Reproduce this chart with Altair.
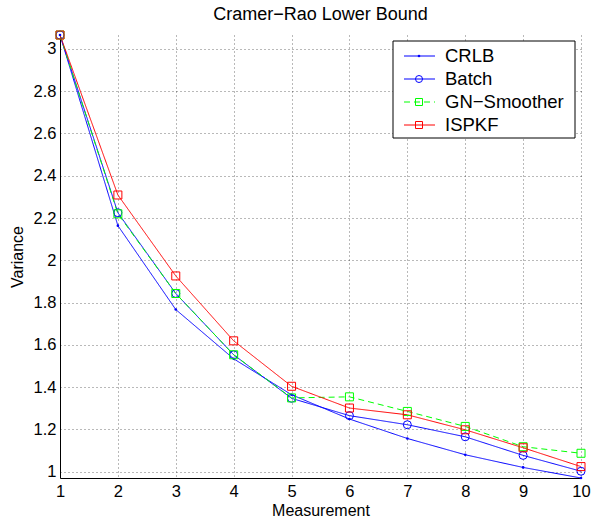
import altair as alt
import pandas as pd

# ---- data ----
measurement = [1, 2, 3, 4, 5, 6, 7, 8, 9, 10]
crlb = [3.066, 2.164, 1.767, 1.534, 1.364, 1.249, 1.157, 1.080, 1.020, 0.970]
batch = [3.066, 2.225, 1.843, 1.553, 1.347, 1.265, 1.222, 1.165, 1.077, 1.002]
gn_smoother = [3.066, 2.220, 1.843, 1.553, 1.349, 1.354, 1.285, 1.214, 1.118, 1.087]
ispkf = [3.066, 2.309, 1.926, 1.619, 1.404, 1.301, 1.269, 1.198, 1.113, 1.024]

series_names = ["CRLB", "Batch", "GN\u2212Smoother", "ISPKF"]
series_colors = ["#0000ff", "#0000ff", "#00ff00", "#ff0000"]
series_dash = [[1, 0], [1, 0], [6, 4], [1, 0]]
series_shapes = ["circle", "circle", "square", "square"]
y_ticks = [1, 1.2, 1.4, 1.6, 1.8, 2, 2.2, 2.4, 2.6, 2.8, 3]

rows = []
for name, vals in zip(series_names, [crlb, batch, gn_smoother, ispkf]):
    for m, v in zip(measurement, vals):
        rows.append({"series": name, "Measurement": m, "Variance": v})
df = pd.DataFrame(rows)

legend_df = pd.DataFrame({"series": series_names, "row": list(range(len(series_names)))})

FONT = "Liberation Sans"

color_enc = alt.Color("series:N", scale=alt.Scale(domain=series_names, range=series_colors), legend=None)
dash_enc = alt.StrokeDash("series:N", scale=alt.Scale(domain=series_names, range=series_dash), legend=None)
shape_enc = alt.Shape("series:N", scale=alt.Scale(domain=series_names, range=series_shapes), legend=None)

x_enc = alt.X("Measurement:Q",
              scale=alt.Scale(domain=[1, 10], nice=False, zero=False),
              axis=alt.Axis(values=measurement, format="d", title="Measurement",
                            titlePadding=3, labelPadding=5, labelFlush=False))
y_enc = alt.Y("Variance:Q",
              scale=alt.Scale(domain=[0.970, 3.066], nice=False, zero=False),
              axis=alt.Axis(values=y_ticks, format="~g", title="Variance",
                            titlePadding=8, labelPadding=4, labelFlush=False))

base = alt.Chart(df)
lines = base.mark_line(strokeWidth=1).encode(x=x_enc, y=y_enc, color=color_enc, strokeDash=dash_enc)
dots = base.transform_filter(alt.datum.series == "CRLB").mark_point(
    filled=True, size=7, shape="circle", opacity=1
).encode(x=x_enc, y=y_enc, color=color_enc)
markers = base.transform_filter(alt.datum.series != "CRLB").mark_point(
    filled=False, size=64, strokeWidth=1, opacity=1
).encode(x=x_enc, y=y_enc, color=color_enc, shape=shape_enc)

main = alt.layer(lines, dots, markers)

# ---- legend box ----
ly = alt.Y("row:Q", scale=alt.Scale(domain=[0, 3], range=[21, 90]), axis=None)
box = alt.Chart(pd.DataFrame({"a": [0]})).mark_rect(
    fill="white", stroke="black", strokeWidth=1
).encode(x=alt.value(333), x2=alt.value(515), y=alt.value(6), y2=alt.value(103))
lbase = alt.Chart(legend_df)
lsegs = lbase.mark_rule(strokeWidth=1).encode(
    x=alt.value(344), x2=alt.value(375), y=ly, color=color_enc, strokeDash=dash_enc)
ldots = lbase.transform_filter(alt.datum.series == "CRLB").mark_point(
    filled=True, size=7, shape="circle", opacity=1).encode(x=alt.value(359), y=ly, color=color_enc)
lmarks = lbase.transform_filter(alt.datum.series != "CRLB").mark_point(
    filled=False, size=49, strokeWidth=1, opacity=1).encode(
    x=alt.value(359), y=ly, color=color_enc, shape=shape_enc)
ltext = lbase.mark_text(align="left", baseline="middle", font=FONT, fontSize=18.5, color="black").encode(
    x=alt.value(385), y=ly, text="series:N")
legend = alt.layer(box, lsegs, ldots, lmarks, ltext)

chart = alt.layer(main, legend).resolve_scale(y="independent").properties(
    width=521, height=443,
    background="white",
    autosize=alt.AutoSizeParams(type="none"),
    padding={"left": 60, "top": 35, "right": 16, "bottom": 45},
    title=alt.Title("Cramer\u2212Rao Lower Bound", font=FONT, fontSize=18,
                    fontWeight="normal", color="black", offset=5, anchor="middle"),
).configure_view(stroke=None).configure_axis(
    domainColor="black", domainWidth=1, ticks=False,
    grid=True, gridColor="#000000", gridOpacity=0.55, gridDash=[1, 3], gridWidth=1,
    labelFont=FONT, labelFontSize=16.5, labelColor="black",
    titleFont=FONT, titleFontSize=16, titleFontWeight="normal", titleColor="black",
)

chart.save("out.html", embed_options={"renderer": "svg", "actions": False})
